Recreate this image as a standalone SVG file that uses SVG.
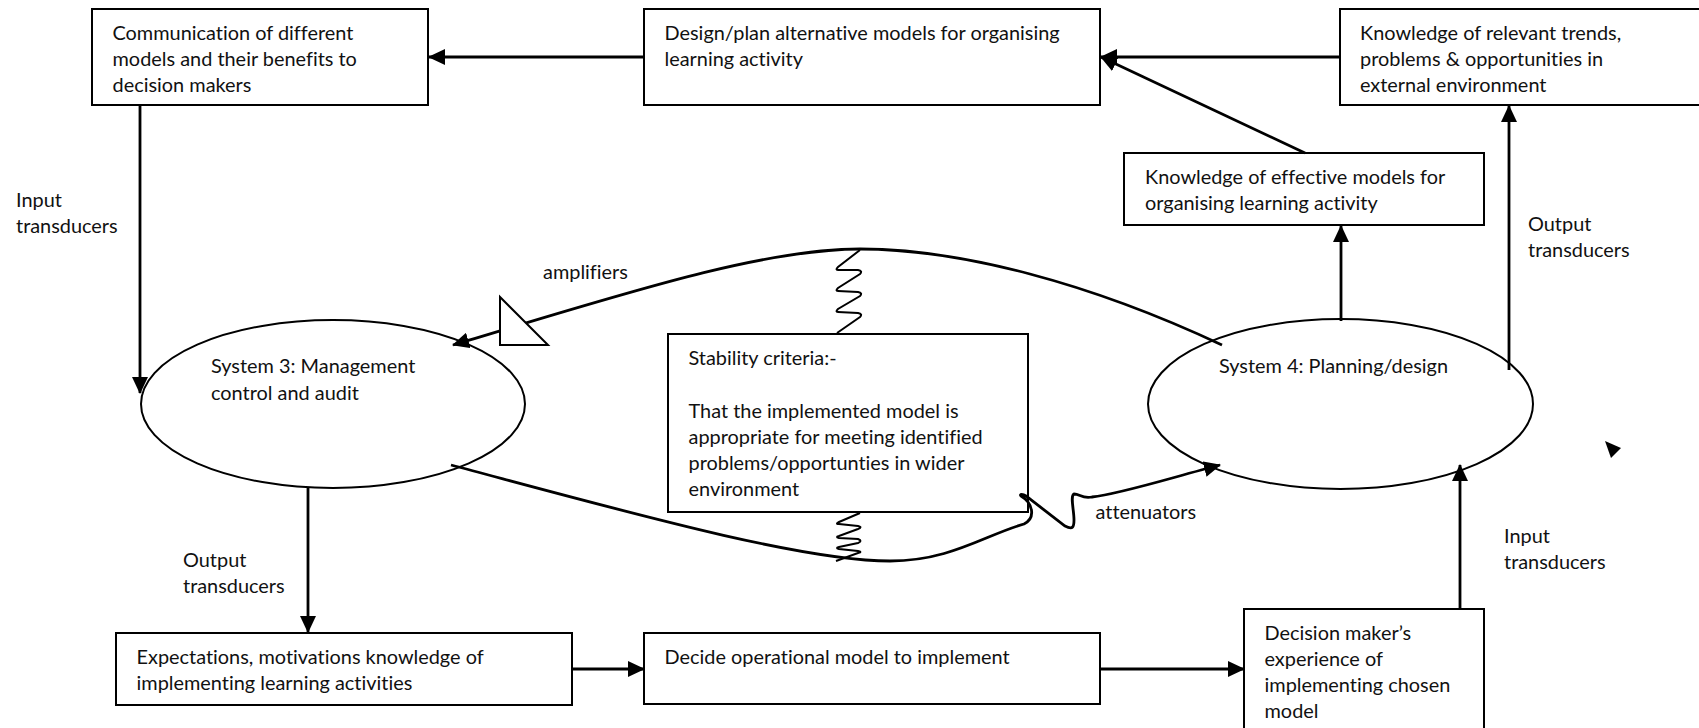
<svg xmlns="http://www.w3.org/2000/svg" width="1699" height="728" viewBox="0 0 1699 728">
<style>
text{font-family:Lato,"Open Sans",sans-serif;font-size:19.9px;fill:#111;font-variant-ligatures:none}
.b{fill:#fff;stroke:#000;stroke-width:2}
.c{fill:none;stroke:#000;stroke-width:2.8}
.w{fill:none;stroke:#000;stroke-width:2}
</style>
<defs><marker id="a" markerUnits="userSpaceOnUse" markerWidth="18" markerHeight="16" refX="16" refY="8" orient="auto"><path d="M0,0L17,8L0,16Z" fill="#000"/></marker></defs>
<rect width="1699" height="728" fill="#fff"/>
<g id="n1"><rect class="b" x="92" y="9" width="336" height="96"/><text x="112.500" y="40">Communication of different</text><text x="112.500" y="66">models and their benefits to</text><text x="112.500" y="92">decision makers</text></g>
<g id="n2"><rect class="b" x="644" y="9" width="456" height="96"/><text x="664.500" y="40">Design/plan alternative models for organising</text><text x="664.500" y="66">learning activity</text></g>
<g id="n3"><rect class="b" x="1340" y="9" width="365" height="96"/><text x="1360" y="40">Knowledge of relevant trends,</text><text x="1360" y="66">problems &amp; opportunities in</text><text x="1360" y="92">external environment</text></g>
<g id="n4"><rect class="b" x="1124" y="153" width="360" height="72"/><text x="1145" y="184">Knowledge of effective models for</text><text x="1145" y="210">organising learning activity</text></g>
<g id="n5"><rect class="b" x="668" y="334" width="360" height="178"/><text x="688.500" y="365">Stability criteria:-</text><text x="688.500" y="418">That the implemented model is</text><text x="688.500" y="444">appropriate for meeting identified</text><text x="688.500" y="470">problems/opportunties in wider</text><text x="688.500" y="496">environment</text></g>
<g id="n6"><ellipse class="b" cx="333" cy="404" rx="192" ry="84"/><text x="211" y="373">System 3: Management</text><text x="211" y="400">control and audit</text></g>
<g id="n7"><ellipse class="b" cx="1340.500" cy="404" rx="192.500" ry="85"/><text x="1219" y="373">System 4: Planning/design</text></g>
<g id="n8"><rect class="b" x="116" y="633" width="456" height="72"/><text x="136.500" y="664">Expectations, motivations knowledge of</text><text x="136.500" y="690">implementing learning activities</text></g>
<g id="n9"><rect class="b" x="644" y="633" width="456" height="71"/><text x="664.500" y="664">Decide operational model to implement</text></g>
<g id="n10"><rect class="b" x="1244" y="609" width="240" height="125"/><text x="1264.500" y="640">Decision maker’s</text><text x="1264.500" y="666">experience of</text><text x="1264.500" y="692">implementing chosen</text><text x="1264.500" y="718">model</text></g>
<g id="connectors">
<path class="c" marker-end="url(#a)" d="M644,57H429"/>
<path class="c" marker-end="url(#a)" d="M1340,57H1101"/>
<path class="c" marker-end="url(#a)" d="M1305,153L1101,57"/>
<path class="c" marker-end="url(#a)" d="M140,105V393"/>
<path class="c" marker-end="url(#a)" d="M1341,321V226"/>
<path class="c" marker-end="url(#a)" d="M1509,370V106"/>
<path class="c" marker-end="url(#a)" d="M308,488V632"/>
<path class="c" marker-end="url(#a)" d="M572,669H644"/>
<path class="c" marker-end="url(#a)" d="M1100,669H1244"/>
<path class="c" marker-end="url(#a)" d="M1460,609V465"/>
<path class="c" marker-end="url(#a)" d="M1222,345C1090,283 960,249 860,249C760,249 620,295 453,345"/>
<path class="c" marker-end="url(#a)" d="M451,465C620,510 800,561 890,561C950,561 985,535 1024,524C1036,518 1033,503 1021,496C1019,494 1023,494 1026,496L1065,526C1073,530 1074,527 1074,520C1074,510 1070,496 1074,494C1080,494 1082,499 1092,497C1120,494 1170,478 1220,465"/>
<path class="w" d="M860,250L838,267Q835,270 838,270L858,270Q863,271 860,274L838,288Q835,291 838,291L858,292Q863,293 860,296L838,309Q835,312 838,312L858,313Q863,314 860,317L837,333"/>
<path class="w" d="M860,513L839,522Q835,524 839,524L858,526Q863,527 858,529L839,536Q835,537 839,538L858,539Q863,541 858,543L839,547Q835,548 839,549L858,551Q863,552 858,553L836,561"/>
</g>
<path class="b" d="M500,297V345H548Z"/>
<path fill="#000" d="M1605,441L1621,448L1611,458Z"/>
<text x="16" y="207">Input</text><text x="16" y="233">transducers</text>
<text x="1528" y="231">Output</text><text x="1528" y="257">transducers</text>
<text x="543" y="279">amplifiers</text>
<text x="1095.500" y="519">attenuators</text>
<text x="183" y="567">Output</text><text x="183" y="593">transducers</text>
<text x="1504" y="543">Input</text><text x="1504" y="569">transducers</text>
</svg>
